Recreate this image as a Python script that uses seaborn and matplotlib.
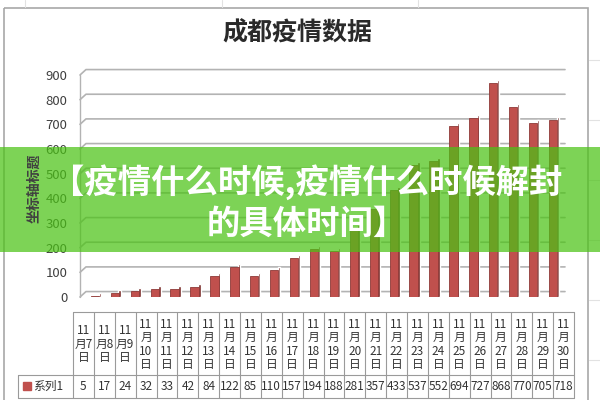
import numpy as np
import pandas as pd
import matplotlib.pyplot as plt
import seaborn as sns
from matplotlib.patches import Rectangle

days = [7, 8, 9, 10, 11, 12, 13, 14, 15, 16, 17, 18, 19, 20, 21, 22, 23, 24,
        25, 26, 27, 28, 29, 30]
cases = [5, 17, 24, 32, 33, 42, 84, 122, 85, 110, 157, 194, 188, 281, 357,
         433, 537, 552, 694, 727, 868, 770, 705, 718]
yticks = list(range(0, 1000, 100))
series_name = '系列1'
title = '成都疫情数据'
y_title = '坐标轴标题'
banner = '【疫情什么时候,疫情什么时候解封\n的具体时间】'

sns.set_theme(style='white')
plt.rcParams['font.family'] = ['Noto Sans CJK SC', 'DejaVu Sans']

labels = ['11月%d日' % d for d in days]
df = pd.DataFrame({'date': labels, 'cases': cases})

fig = plt.figure(figsize=(6, 4), dpi=100)
fig.patch.set_facecolor('white')

# faint spreadsheet grid behind the chart
bg = fig.add_axes([0, 0, 1, 1])
bg.set_xlim(0, 600)
bg.set_ylim(400, 0)
bg.axis('off')
for gx in [25, 222, 418]:
    bg.plot([gx, gx], [0, 7], color='#e2e2e2', lw=0.8)
for gy in [60, 120, 180, 240, 300, 360]:
    bg.plot([589, 600], [gy, gy], color='#e2e2e2', lw=0.8)
bg.add_patch(Rectangle((4, 8), 584, 400, fill=False, ec='#a8a8a8', lw=1.2))

ax = fig.add_axes([80 / 600, 1 - 297 / 400, 485 / 600, 222 / 400])
ax.patch.set_alpha(0)
n = len(cases)
x = np.arange(n)

# perspective gridlines
for t in yticks:
    ax.plot([-0.75, -0.45, 23.6], [t, t + 22, t + 22], color='#b3b3b3',
            lw=1.2, clip_on=False, zorder=1)
ax.plot([-0.75, -0.75], [0, 900], color='#b3b3b3', lw=1.0, clip_on=False)

# darker side face for the 3D look
ax.bar(x + 0.24, np.array(cases) + 12, width=0.12, color='#7a2c2a',
       zorder=2, clip_on=False)
sns.barplot(data=df, x='date', y='cases', ax=ax, color='#c0504d',
            saturation=1, width=0.42, edgecolor='#8e3a38', linewidth=0.6,
            zorder=3)
ax.set_xlim(-0.75, 23.6)
ax.set_ylim(0, 900)
ax.set_yticks(yticks)
ax.set_yticklabels([str(t) for t in yticks], fontsize=9.5, color='#3f3f3f')
ax.tick_params(axis='y', length=0, pad=9)
ax.set_xticks([])
ax.set_xlabel('')
ax.set_ylabel('')
for s in ax.spines.values():
    s.set_visible(False)

# front overlay: title, data table, banner
ov = fig.add_axes([0, 0, 1, 1])
ov.set_zorder(5)
ov.set_xlim(0, 600)
ov.set_ylim(400, 0)
ov.axis('off')

ov.text(297, 33, title, ha='center', va='center', fontsize=18,
        fontweight='bold', color='#2a2a2a')
ov.text(34, 188, y_title, ha='center', va='center', rotation=90,
        fontsize=10, fontweight='bold', color='#404040')

tl, tr = 73, 574
cw = (tr - tl) / n
top, mid, bot = 312, 375, 398
lc = '#9a9a9a'
ov.plot([tl, tr], [top, top], color=lc, lw=0.8)
ov.plot([18, tr], [mid, mid], color=lc, lw=0.8)
ov.plot([18, tr], [bot, bot], color=lc, lw=0.8)
ov.plot([18, 18], [mid, bot], color=lc, lw=0.8)
for i in range(n + 1):
    ov.plot([tl + i * cw, tl + i * cw], [top, bot], color=lc, lw=0.8)
for i, (d, v) in enumerate(zip(days, cases)):
    cx = tl + (i + 0.5) * cw
    head = '11\n月%d\n日' % d if d < 10 else '11\n月\n%d\n日' % d
    ov.text(cx, (top + mid) / 2 + 1, head, ha='center', va='center',
            fontsize=8.5, linespacing=1.05, color='#333333')
    ov.text(cx, (mid + bot) / 2, str(v), ha='center', va='center',
            fontsize=8.5, color='#333333')
ov.add_patch(Rectangle((23, 382), 8, 8, color='#c0504d'))
ov.text(33, (mid + bot) / 2, series_name, ha='left', va='center',
        fontsize=8.5, color='#333333')

ov.add_patch(Rectangle((0, 147), 600, 105, color='#4bc315', alpha=0.72,
                       lw=0))
ov.text(307, 202, banner, ha='center', va='center', fontsize=24,
        fontweight='bold', color='white', linespacing=1.3)

fig.savefig('out.png', dpi=100)
